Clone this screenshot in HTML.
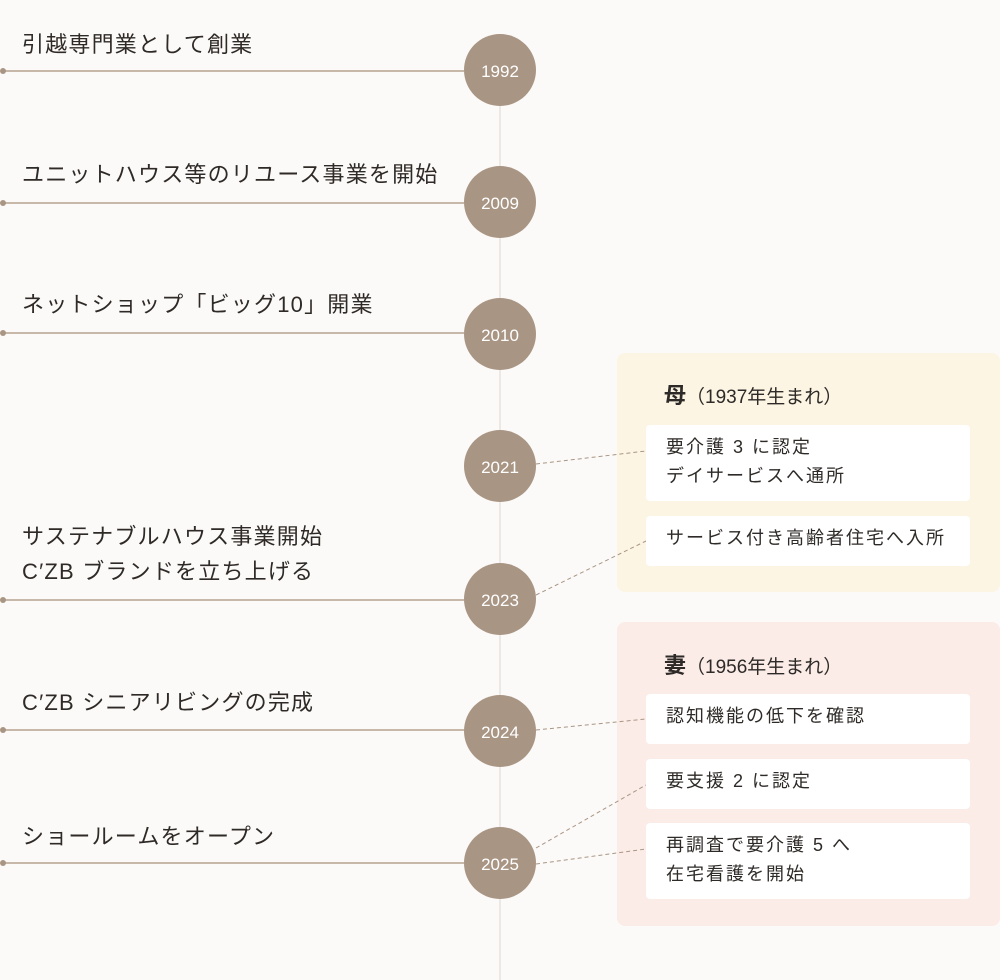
<!DOCTYPE html>
<html><head><meta charset="utf-8"><style>
*{margin:0;padding:0;box-sizing:border-box}
body{width:1000px;height:980px;background:#fcfaf8;position:relative;overflow:hidden;font-family:"Liberation Sans","Noto Sans CJK JP",sans-serif;color:#2e2a27}
.t{position:absolute;left:22px;font-size:22px;letter-spacing:1.2px;line-height:35px}
.c{position:absolute;left:464px;width:72px;height:72px;border-radius:50%;background:#a99584;color:#fff;font-size:17px;text-align:center;line-height:76px}
.h{position:absolute;left:3px;width:461px;height:2px;background:#c8b8aa}
.d{position:absolute;left:0;width:6px;height:6px;border-radius:50%;background:#a99584}
.p{position:absolute;left:617px;width:383px;border-radius:8px}
.b{position:absolute;left:646px;width:324px;background:#fff;border-radius:4px;font-size:18px;line-height:29px;padding:8px 20px;letter-spacing:2px}
.ti{position:absolute;left:664px;font-size:19px}
.ti b{font-size:22px}
</style></head><body>
<div style="position:absolute;left:499px;top:100px;width:2px;height:880px;background:#ece8e4"></div>
<div class="p" style="top:353px;height:239px;background:#fcf5e4"></div>
<div class="p" style="top:622px;height:304px;background:#fbece8"></div>
<svg style="position:absolute;left:0;top:0" width="1000" height="980"><g stroke="#a99584" stroke-dasharray="4,3" stroke-width="1">
<line x1="536" y1="464" x2="646" y2="451"/><line x1="536" y1="595" x2="646" y2="541"/><line x1="536" y1="730" x2="646" y2="719"/><line x1="536" y1="848" x2="646" y2="785"/><line x1="536" y1="864" x2="646" y2="849"/></g></svg>
<div class="h" style="top:70px"></div><div class="d" style="top:68px"></div>
<div class="h" style="top:202px"></div><div class="d" style="top:200px"></div>
<div class="h" style="top:332px"></div><div class="d" style="top:330px"></div>
<div class="h" style="top:599px"></div><div class="d" style="top:597px"></div>
<div class="h" style="top:729px"></div><div class="d" style="top:727px"></div>
<div class="h" style="top:862px"></div><div class="d" style="top:860px"></div>
<div class="t" style="top:27px">引越専門業として創業</div>
<div class="t" style="top:157px">ユニットハウス等のリユース事業を開始</div>
<div class="t" style="top:287px">ネットショップ「ビッグ10」開業</div>
<div class="t" style="top:519px">サステナブルハウス事業開始<br>C′ZB ブランドを立ち上げる</div>
<div class="t" style="top:685px">C′ZB シニアリビングの完成</div>
<div class="t" style="top:819px">ショールームをオープン</div>
<div class="c" style="top:34px">1992</div>
<div class="c" style="top:166px">2009</div>
<div class="c" style="top:298px">2010</div>
<div class="c" style="top:430px">2021</div>
<div class="c" style="top:563px">2023</div>
<div class="c" style="top:695px">2024</div>
<div class="c" style="top:827px">2025</div>
<div class="ti" style="top:378px"><b>母</b>（1937年生まれ）</div>
<div class="b" style="top:425px;height:76px">要介護 3 に認定<br>デイサービスへ通所</div>
<div class="b" style="top:516px;height:50px">サービス付き高齢者住宅へ入所</div>
<div class="ti" style="top:648px"><b>妻</b>（1956年生まれ）</div>
<div class="b" style="top:694px;height:50px">認知機能の低下を確認</div>
<div class="b" style="top:759px;height:50px">要支援 2 に認定</div>
<div class="b" style="top:823px;height:76px">再調査で要介護 5 へ<br>在宅看護を開始</div>
</body></html>
